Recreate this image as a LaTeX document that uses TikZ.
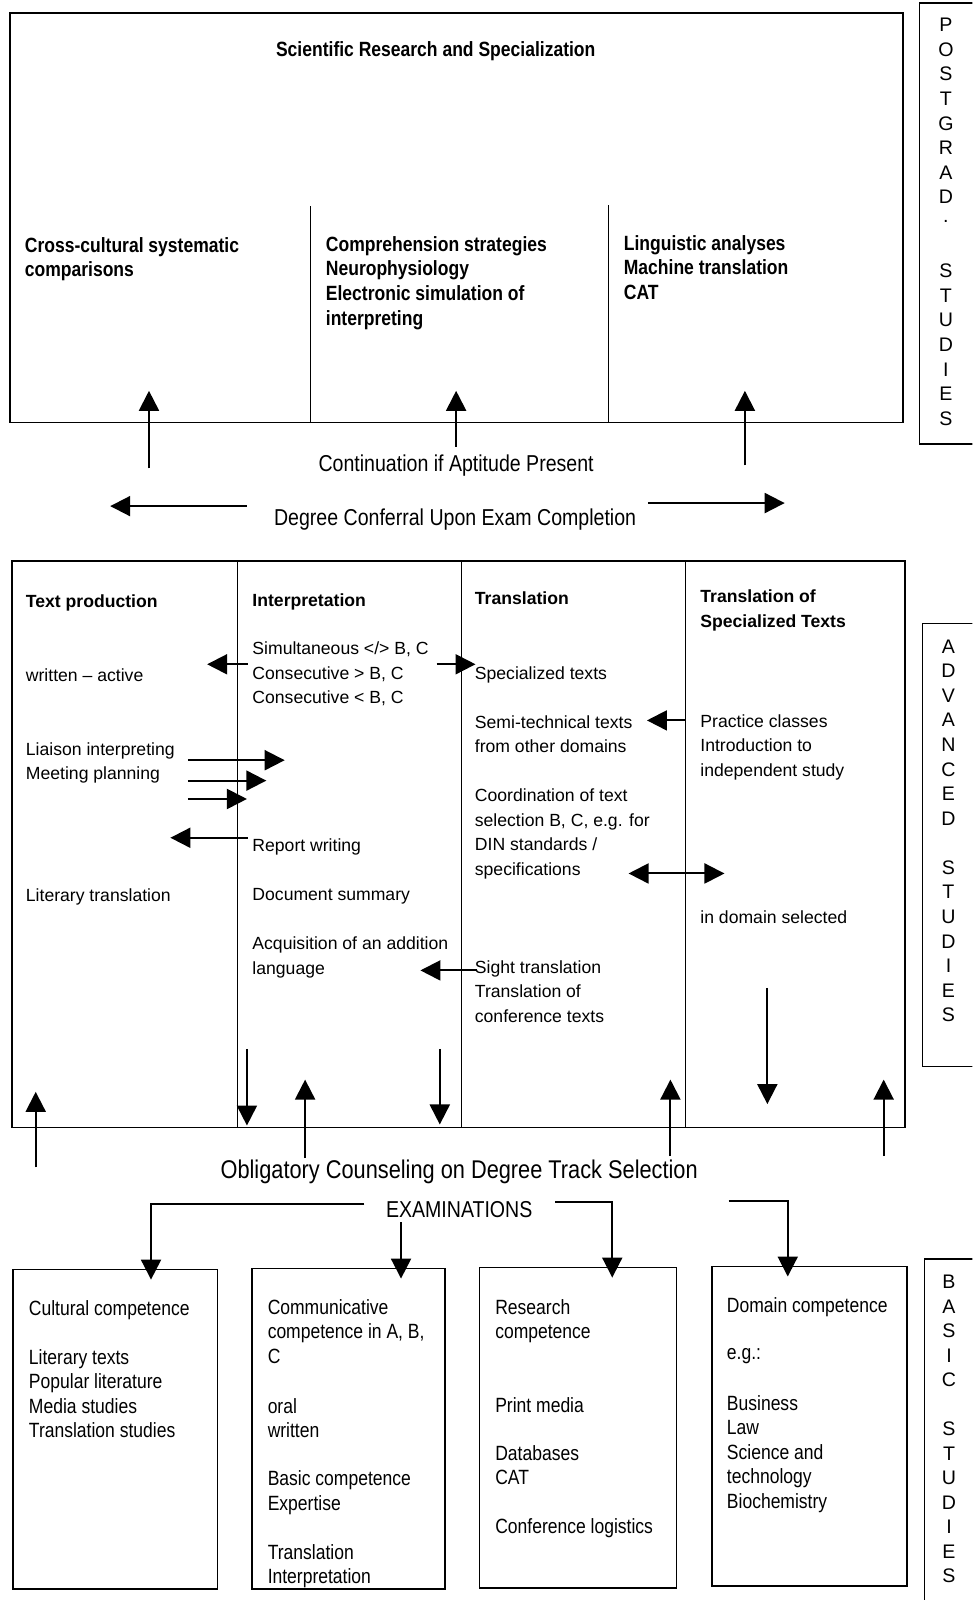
\documentclass[tikz,border=0pt]{standalone}
\usepackage{fontspec}
\setmainfont{Liberation Sans}
\newfontfamily\condfont{Liberation Sans}[FakeStretch=0.85]
\usetikzlibrary{positioning,arrows.meta}
\tikzset{
  frame/.style={line width=0.8pt},
  divl/.style={line width=0.6pt},
  arr/.style={-{Triangle[length=10pt,width=10pt]},line width=1pt},
  darr/.style={{Triangle[length=10pt,width=10pt]}-{Triangle[length=10pt,width=10pt]},line width=1pt},
  txt/.style={anchor=north west,inner sep=0pt,align=left},
  midtxt/.style={txt,font=\fontsize{8.8}{12.24}\selectfont},
  midhead/.style={txt,font=\fontsize{8.8}{12.24}\selectfont\bfseries},
  lowtxt/.style={txt,font=\condfont\fontsize{10.3}{12.24}\selectfont},
  toptxt/.style={txt,font=\condfont\bfseries\fontsize{10.3}{12.35}\selectfont},
  bigtxt/.style={inner sep=0pt,font=\condfont\fontsize{11.5}{14}\selectfont},
  sidelet/.style={inner sep=0pt,font=\fontsize{9.8}{12}\selectfont},
}

\begin{document}
\begin{tikzpicture}[x=0.51pt,y=-0.51pt]
  \useasboundingbox (0,0) rectangle (953,1568);
  \clip (0,0) rectangle (953,1568);
  % postgraduate studies
  \draw[frame] (10,13) rectangle (885,414);
  \draw[divl] (304,202) -- (304,414);
  \draw[divl] (596,201) -- (596,414);
  \node[toptxt,anchor=center] (srTitle) at (427,50) {Scientific Research and Specialization};
  \node[toptxt] (srCross) at (24,232) {Cross-cultural systematic\\comparisons};
  \node[toptxt] (srCompr) at (319,231) {Comprehension strategies\\Neurophysiology\\Electronic simulation of\\interpreting};
  \node[toptxt] (srLing) at (611,230) {Linguistic analyses\\Machine translation\\CAT};
  \foreach \n/\x/\y in {1/146/459,2/447/438,3/730/456}{
    \coordinate (cs\n) at (\x,\y);
    \coordinate (ce\n) at (\x,383);
    \draw[arr] (cs\n) -- (ce\n);
  }
  \node[bigtxt] (contin) at (447,456) {Continuation if Aptitude Present};
  \coordinate (dgL) at (242,496);
  \coordinate (dgLt) at (108,496);
  \coordinate (dgR) at (635,493);
  \coordinate (dgRt) at (769,493);
  \draw[arr] (dgL) -- (dgLt);
  \draw[arr] (dgR) -- (dgRt);
  \node[bigtxt] (degree) at (446,509) {Degree Conferral Upon Exam Completion};

  % advanced studies
  \draw[frame] (12,550) rectangle (887,1105);
  \foreach \x in {233,452,672}{\draw[divl] (\x,550) -- (\x,1105);}
  \node[midhead] (tpHead) at (25,582) {Text production};
  \node[midtxt] (tpWrit) at (25,655) {written -- active};
  \node[midtxt] (tpLiai) at (25,727) {Liaison interpreting\\Meeting planning};
  \node[midtxt] (tpLit) at (25,871) {Literary translation};
  \node[midhead] (inHead) at (247,581) {Interpretation};
  \node[midtxt] (inSim) at (247,629) {Simultaneous </> B, C\\Consecutive > B, C\\Consecutive < B, C};
  \node[midtxt] (inRep) at (247,822) {Report writing};
  \node[midtxt] (inDoc) at (247,870) {Document summary};
  \node[midtxt] (inAcq) at (247,918) {Acquisition of an addition\\language};
  \node[midhead] (trHead) at (465,580) {Translation};
  \node[midtxt] (trSpec) at (465,653) {Specialized texts};
  \node[midtxt] (trSemi) at (465,701) {Semi-technical texts\\from other domains};
  \node[midtxt] (trCoord) at (465,773) {Coordination of text\\selection B, C, e.g. for\\DIN standards /\\specifications};
  \node[midtxt] (trSight) at (465,941) {Sight translation\\Translation of\\conference texts};
  \node[midhead] (stHead) at (686,578) {Translation of\\Specialized Texts};
  \node[midtxt] (stPrac) at (686,700) {Practice classes\\Introduction to\\independent study};
  \node[midtxt] (stDom) at (686,892) {in domain selected};

  \coordinate (a1s) at (243,651);  \coordinate (a1e) at (203,651);
  \coordinate (a2s) at (428,651);  \coordinate (a2e) at (466,651);
  \coordinate (a3s) at (184,745);  \coordinate (a3e) at (279,745);
  \coordinate (a4s) at (184,765);  \coordinate (a4e) at (261,765);
  \coordinate (a5s) at (184,783);  \coordinate (a5e) at (242,783);
  \coordinate (a6s) at (243,821);  \coordinate (a6e) at (167,821);
  \coordinate (a7s) at (467,951);  \coordinate (a7e) at (412,951);
  \coordinate (a8s) at (672,706);  \coordinate (a8e) at (634,706);
  \coordinate (a9s) at (616,856);  \coordinate (a9e) at (710,856);
  \foreach \n in {1,...,8}{\draw[arr] (a\n s) -- (a\n e);}
  \draw[darr] (a9s) -- (a9e);
  % down into counseling
  \coordinate (d1s) at (242,1028); \coordinate (d1e) at (242,1103);
  \coordinate (d2s) at (431,1028); \coordinate (d2e) at (431,1102);
  \coordinate (d3s) at (752,968);  \coordinate (d3e) at (752,1082);
  \foreach \n in {1,2,3}{\draw[arr] (d\n s) -- (d\n e);}
  % up from counseling
  \coordinate (u1s) at (35,1144);  \coordinate (u1e) at (35,1070);
  \coordinate (u2s) at (299,1135); \coordinate (u2e) at (299,1058);
  \coordinate (u3s) at (657,1133); \coordinate (u3e) at (657,1058);
  \coordinate (u4s) at (866,1133); \coordinate (u4e) at (866,1058);
  \foreach \n in {1,...,4}{\draw[arr] (u\n s) -- (u\n e);}

  \node[bigtxt,font=\condfont\fontsize{12.8}{15}\selectfont] (couns) at (450,1148) {Obligatory Counseling on Degree Track Selection};
  \node[bigtxt] (exam) at (450,1185) {EXAMINATIONS};
  \coordinate (e1s) at (357,1180); \coordinate (e1e) at (148,1254);
  \coordinate (e2s) at (393,1198); \coordinate (e2e) at (393,1253);
  \coordinate (e3s) at (544,1178); \coordinate (e3e) at (600,1252);
  \coordinate (e4s) at (714,1177); \coordinate (e4e) at (772,1251);
  \draw[arr] (e1s) -| (e1e);
  \draw[arr] (e2s) -- (e2e);
  \draw[arr] (e3s) -| (e3e);
  \draw[arr] (e4s) -| (e4e);

  % basic studies
  \draw[frame] (13,1244) rectangle (213,1557);
  \draw[frame] (247,1243) rectangle (436,1557);
  \draw[frame] (470,1242) rectangle (663,1556);
  \draw[frame] (698,1241) rectangle (889,1554);
  \node[lowtxt] (cuHead) at (28,1274) {Cultural competence};
  \node[lowtxt] (cuList) at (28,1322) {Literary texts\\Popular literature\\Media studies\\Translation studies};
  \node[lowtxt] (coHead) at (262,1273) {Communicative\\competence in A, B,\\C};
  \node[lowtxt] (coOral) at (262,1370) {oral\\written};
  \node[lowtxt] (coBasic) at (262,1441) {Basic competence\\Expertise};
  \node[lowtxt] (coTrans) at (262,1513) {Translation\\Interpretation};
  \node[lowtxt] (reHead) at (485,1273) {Research\\competence};
  \node[lowtxt] (rePrint) at (485,1369) {Print media};
  \node[lowtxt] (reData) at (485,1416) {Databases\\CAT};
  \node[lowtxt] (reConf) at (485,1488) {Conference logistics};
  \node[lowtxt] (doHead) at (712,1271) {Domain competence};
  \node[lowtxt] (doEg) at (712,1321) {e.g.:};
  \node[lowtxt] (doList) at (712,1367) {Business\\Law\\Science and\\technology\\Biochemistry};

  % side labels
  \draw[frame] (901,3) rectangle (975,435);
  \draw[frame] (904,611) rectangle (975,1045);
  \draw[frame] (906,1234) rectangle (975,1600);
  \foreach \c [count=\i from 0] in {P,O,S,T,G,R,A,D,.,{},S,T,U,D,I,E,S}
    \node[sidelet] (pg\i) at (927,24.5+24.1*\i) {\c};
  \foreach \c [count=\i from 0] in {A,D,V,A,N,C,E,D,{},S,T,U,D,I,E,S}
    \node[sidelet] (ad\i) at (929.5,633.6+24.07*\i) {\c};
  \foreach \c [count=\i from 0] in {B,A,S,I,C,{},S,T,U,D,I,E,S}
    \node[sidelet] (bs\i) at (930,1256.5+24*\i) {\c};
\end{tikzpicture}
\end{document}
